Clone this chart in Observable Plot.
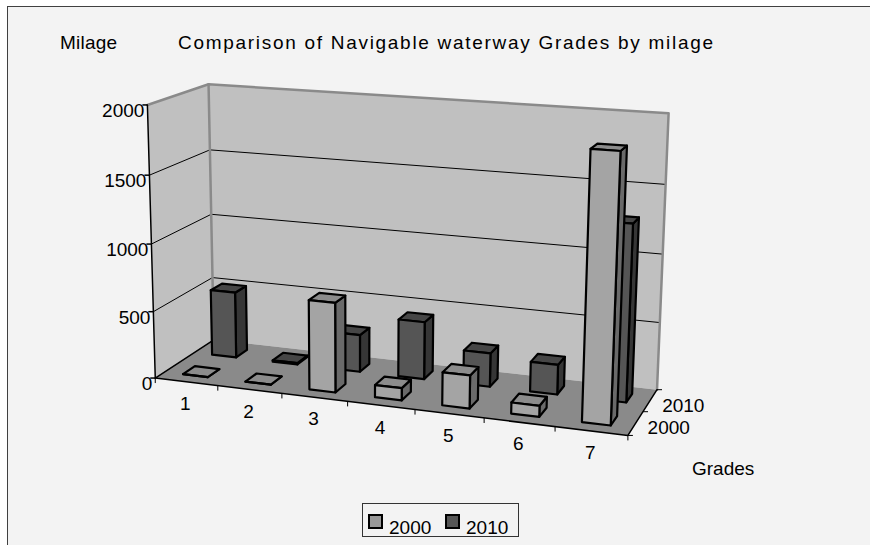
<!DOCTYPE html>
<html><head><meta charset="utf-8">
<script src="https://cdn.jsdelivr.net/npm/d3@7"></script>
<script src="https://cdn.jsdelivr.net/npm/@observablehq/plot@0.6"></script>
<style>
body{margin:0;background:#fff;font-family:"Liberation Sans",Arial,sans-serif;}
#wrap{position:relative;width:870px;height:545px;overflow:hidden;}
#area{position:absolute;left:7px;top:6px;width:900px;height:600px;background:#f3f3f3;border-left:1px solid #404040;border-top:1px solid #404040;}
#chart{position:absolute;left:0;top:0;}
.lbl{position:absolute;font-size:19px;color:#000;white-space:nowrap;line-height:1;}
#legend{position:absolute;left:362px;top:503px;width:157px;height:34px;border:1px solid #333;box-sizing:border-box;}
.sw{position:absolute;width:15px;height:15px;border:2px solid #000;box-sizing:border-box;top:10px;}
.lt{position:absolute;font-size:19px;line-height:1;top:14px;}
</style></head>
<body><div id="wrap"><div id="area"></div><div id="chart"></div>
<div class="lbl" id="ytitle" style="left:60px;top:33px">Milage</div>
<div class="lbl" id="title" style="left:178px;top:33px">Comparison of Navigable waterway Grades by milage</div>
<div class="lbl" style="left:692px;top:459px">Grades</div>
<div id="legend"></div>
</div>
<script>
// ---- data ----
const grades = ["1","2","3","4","5","6","7"];
const seriesNames = ["2000","2010"];
const values2000 = [0, 0, 660, 90, 240, 80, 1880];
const values2010 = [505, 10, 280, 430, 250, 220, 1285];
const yTicks = [0, 500, 1000, 1500, 2000];
const yMax = 2000;

// ---- styles ----
const faceColors = {
  "2000": {front:"#a4a4a4", top:"#8c8c8c", side:"#6a6a6a", legend:"#999999"},
  "2010": {front:"#555555", top:"#464646", side:"#363636", legend:"#555555"}
};

// ---- layout: perspective fitted from box corners (u: grades, w: depth, v: value fraction) ----
const anchors = [
  [[0,0,0],[156,377]], [[0,0,1],[146,104]], [[0,1,1],[209,84]], [[0,1,0],[212,340]],
  [[1,1,1],[668,113]], [[1,1,0],[657,388]], [[1,0,0],[627,436]]
];
function solveDLT(anch){
  const A=[], b=[];
  for (const [[X,Y,Z],[x,y]] of anch){
    A.push([X,Y,Z,1,0,0,0,0,-x*X,-x*Y,-x*Z]); b.push(x);
    A.push([0,0,0,0,X,Y,Z,1,-y*X,-y*Y,-y*Z]); b.push(y);
  }
  const n=11, M=Array.from({length:n},()=>new Array(n+1).fill(0));
  for (let r=0;r<A.length;r++) for (let i=0;i<n;i++){ for (let j=0;j<n;j++) M[i][j]+=A[r][i]*A[r][j]; M[i][n]+=A[r][i]*b[r]; }
  for (let c=0;c<n;c++){
    let p=c; for (let r=c+1;r<n;r++) if (Math.abs(M[r][c])>Math.abs(M[p][c])) p=r;
    [M[c],M[p]]=[M[p],M[c]];
    for (let r=0;r<n;r++) if (r!==c){ const f=M[r][c]/M[c][c]; for (let k=c;k<=n;k++) M[r][k]-=f*M[c][k]; }
  }
  return M.map((row,i)=>row[n]/row[i]);
}
const P = solveDLT(anchors);
function proj(u,w,v){
  const d = P[8]*u+P[9]*w+P[10]*v+1;
  return [(P[0]*u+P[1]*w+P[2]*v+P[3])/d, (P[4]*u+P[5]*w+P[6]*v+P[7])/d];
}
const nG = grades.length;
const barHalfU = 0.2/nG, barHalfW = 0.1;

function poly(id, pts){ return pts.map(([u,w,v])=>{ const [x,y]=proj(u,w,v); return {id, x, y}; }); }

// walls and floor
const leftWall = poly("lw", [[0,0,0],[0,0,1],[0,1,1],[0,1,0]]);
const backWall = poly("bw", [[0,1,0],[0,1,1],[1,1,1],[1,1,0]]);
const floor = poly("fl", [[0,0,0],[1,0,0],[1,1,0],[0,1,0]]);
const wallEdges = [
  ...poly("e1", [[0,0,1],[0,1,1],[1,1,1],[1,1,0]]),
  ...poly("e2", [[0,1,0],[0,1,1]])
];
const gridLines = yTicks.filter(t=>t>0 && t<yMax).flatMap(t=>poly("g"+t, [[0,0,t/yMax],[0,1,t/yMax],[1,1,t/yMax]]));
const axisLines = [...poly("ay", [[0,0,0],[0,0,1]]), ...poly("ax", [[0,1,0],[0,0,0],[1,0,0],[1,1,0]])];

// bars
function barFaces(sName, vals, sIdx){
  const wc = 0.25 + 0.5*sIdx;
  const out = {front:[], top:[], side:[]};
  vals.forEach((val,k)=>{
    const uc=(k+0.5)/nG, u0=uc-barHalfU, u1=uc+barHalfU, w0=wc-barHalfW, w1=wc+barHalfW, h=val/yMax;
    const id = sName+"-"+k;
    out.side.push(...poly(id+"s", [[u1,w0,0],[u1,w1,0],[u1,w1,h],[u1,w0,h]]));
    out.top.push(...poly(id+"t", [[u0,w0,h],[u1,w0,h],[u1,w1,h],[u0,w1,h]]));
    out.front.push(...poly(id+"f", [[u0,w0,0],[u1,w0,0],[u1,w0,h],[u0,w0,h]]));
  });
  return out;
}
const bars2010 = barFaces("2010", values2010, 1);
const bars2000 = barFaces("2000", values2000, 0);
function barMarks(faces, s){
  const c = faceColors[s];
  return ["side","top","front"].map(f => Plot.line(faces[f], {x:"x", y:"y", z:"id", fill:c[f], stroke:"#000", strokeWidth:2.2, strokeLinejoin:"round", curve:"linear-closed"}));
}

// labels & ticks
const yLab = yTicks.map(t=>{ const [x,y]=proj(0,0,t/yMax); return {x,y,t:String(t)}; });
const yTickSegs = yTicks.map(t=>{ const [x,y]=proj(0,0,t/yMax); return {x1:x,y1:y,x2:x-5,y2:y}; });
const xLab = grades.map((g,k)=>{ const [x,y]=proj((k+0.5)/nG,0,0); return {x,y,t:g}; });
const xTickSegs = d3.range(nG+1).map(k=>{ const [x,y]=proj(k/nG,0,0); return {x1:x,y1:y,x2:x,y2:y+5}; });
const zLab = seriesNames.map((s,i)=>{ const [x,y]=proj(1,0.25+0.5*i,0); return {x,y,t:s}; });
const zTickSegs = [0,0.5,1].map(w=>{ const [x,y]=proj(1,w,0); return {x1:x,y1:y,x2:x+5,y2:y}; });

const W=870, H=545;
const chart = Plot.plot({
  width:W, height:H, margin:0,
  x:{type:"linear", domain:[0,W], range:[0,W], axis:null},
  y:{type:"linear", domain:[0,H], range:[0,H], axis:null},
  style:{background:"transparent", fontFamily:"'Liberation Sans', Arial, sans-serif", fontSize:"19px", color:"#000", overflow:"visible"},
  marks:[
    Plot.line(leftWall, {x:"x", y:"y", z:"id", fill:"#c0c0c0", stroke:"none", curve:"linear-closed"}),
    Plot.line(backWall, {x:"x", y:"y", z:"id", fill:"#c0c0c0", stroke:"none", curve:"linear-closed"}),
    Plot.line(floor, {x:"x", y:"y", z:"id", fill:"#8a8a8a", stroke:"none", curve:"linear-closed"}),
    Plot.line(gridLines, {x:"x", y:"y", z:"id", stroke:"#000", strokeWidth:1}),
    Plot.line(wallEdges, {x:"x", y:"y", z:"id", stroke:"#8a8a8a", strokeWidth:2.5}),
    Plot.line(axisLines, {x:"x", y:"y", z:"id", stroke:"#000", strokeWidth:1.5}),
    Plot.link(yTickSegs, {x1:"x1", y1:"y1", x2:"x2", y2:"y2", stroke:"#000", strokeWidth:1.5}),
    Plot.link(xTickSegs, {x1:"x1", y1:"y1", x2:"x2", y2:"y2", stroke:"#000", strokeWidth:1}),
    Plot.link(zTickSegs, {x1:"x1", y1:"y1", x2:"x2", y2:"y2", stroke:"#000", strokeWidth:1}),
    ...barMarks(bars2010, "2010"),
    ...barMarks(bars2000, "2000"),
    Plot.text(yLab, {x:"x", y:"y", text:"t", textAnchor:"end", dx:-3, dy:6, fill:"#000"}),
    Plot.text(xLab, {x:"x", y:"y", text:"t", dx:-1, dy:22, fill:"#000"}),
    Plot.text(zLab, {x:"x", y:"y", text:"t", textAnchor:"start", dx:12, dy:5, fill:"#000"})
  ]
});
document.getElementById("chart").appendChild(chart);

// legend
const leg = document.getElementById("legend");
seriesNames.forEach((s,i)=>{
  const sw = document.createElement("div"); sw.className="sw"; sw.style.left=(5+i*77)+"px"; sw.style.background=faceColors[s].legend; leg.appendChild(sw);
  const t = document.createElement("div"); t.className="lt"; t.style.left=(26+i*77)+"px"; t.textContent=s; leg.appendChild(t);
});

// fit title widths
function fit(el, target){
  el.style.letterSpacing="0px";
  const w = el.getBoundingClientRect().width, n = el.textContent.length;
  el.style.letterSpacing = ((target - w)/(n-1))+"px";
}
fit(document.getElementById("title"), 535);
fit(document.getElementById("ytitle"), 57);
</script>
</body></html>
